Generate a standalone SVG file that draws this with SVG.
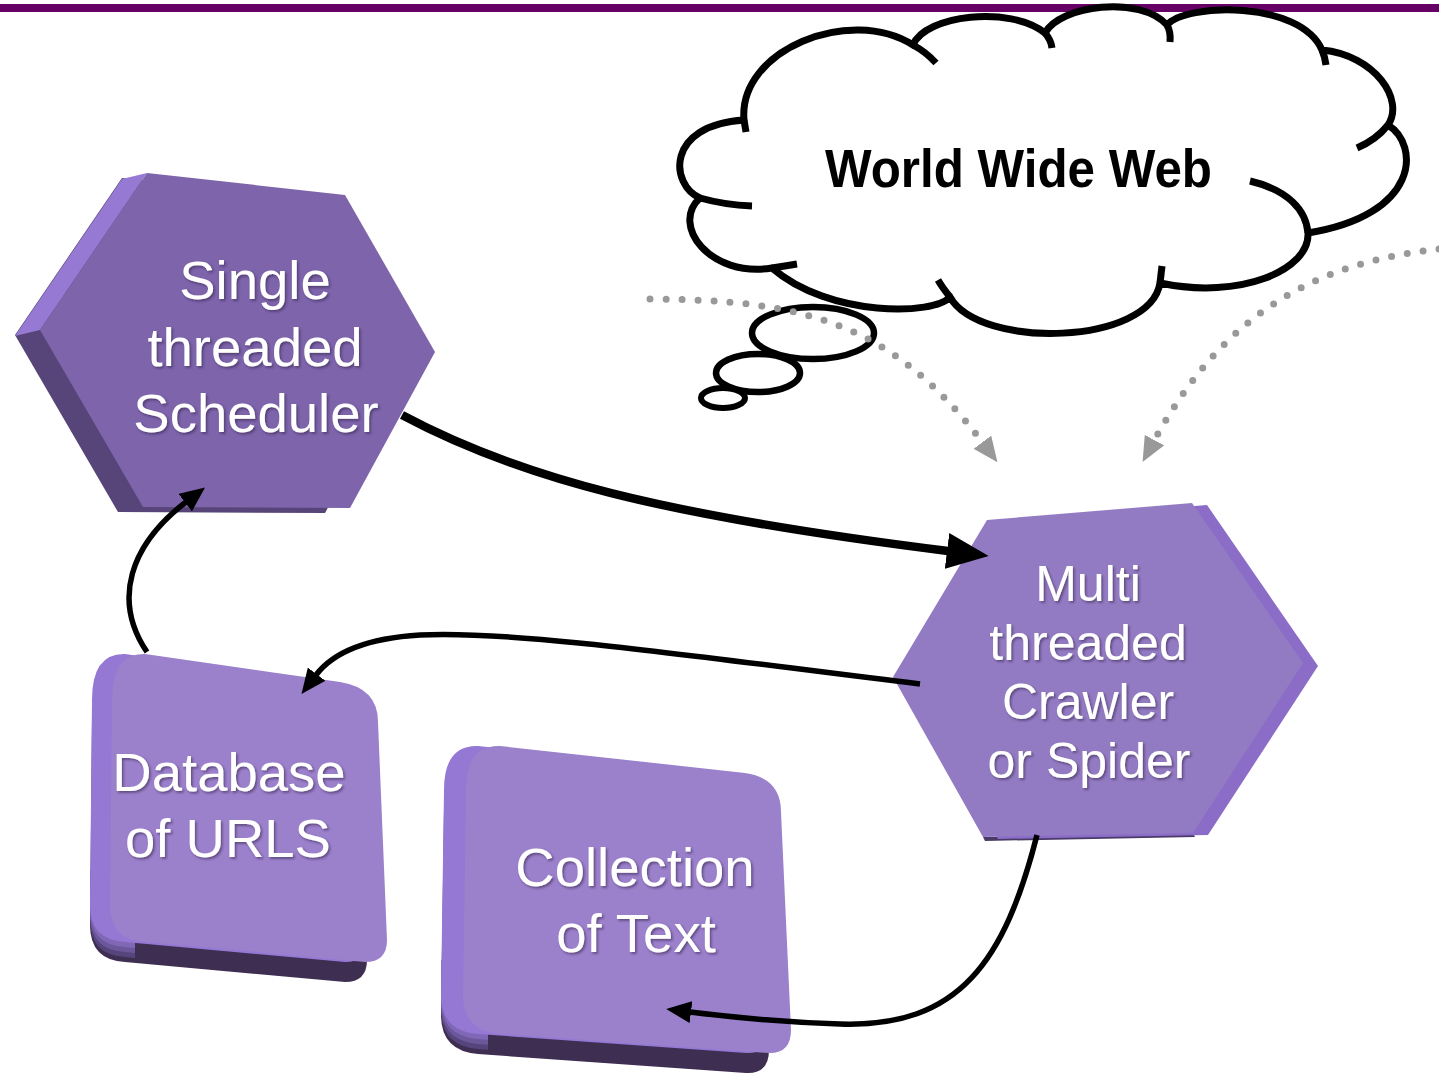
<svg xmlns="http://www.w3.org/2000/svg" width="1439" height="1077" viewBox="0 0 1439 1077">
  <defs>
    <style>
      .lbl { font-family: "Liberation Sans", Arial, sans-serif; fill: #ffffff; text-anchor: middle; }
      .ink { fill: none; stroke: #000000; stroke-width: 7; }
      .link { fill: none; stroke: #000000; stroke-width: 5.5; }
      .dots { fill: none; stroke: #999999; stroke-width: 7; stroke-linecap: round; stroke-dasharray: 0 16; }
    </style>
    <filter id="txtShadow" x="-10%" y="-20%" width="130%" height="150%">
      <feDropShadow dx="1.6" dy="1.8" stdDeviation="1" flood-color="#2e2244" flood-opacity="0.55"/>
    </filter>
    <marker id="headBig" markerUnits="userSpaceOnUse" viewBox="0 0 42 36" markerWidth="42" markerHeight="36" refX="1" refY="18" orient="auto">
      <path d="M0,0 L42,18 L0,36 Z" fill="#000000"/>
    </marker>
    <marker id="head" markerUnits="userSpaceOnUse" viewBox="0 0 25 22" markerWidth="25" markerHeight="22" refX="1" refY="11" orient="auto">
      <path d="M0,0 L25,11 L0,22 Z" fill="#000000"/>
    </marker>
    <marker id="headGrey" markerUnits="userSpaceOnUse" viewBox="0 0 25 22" markerWidth="25" markerHeight="22" refX="1" refY="11" orient="auto">
      <path d="M0,0 L25,11 L0,22 Z" fill="#999999"/>
    </marker>
    <!-- top faces of the two rounded blocks -->
    <path id="dbShape" d="M145,654 L340,682 Q378,688 378,722 L387,940 Q387,962 365,962 L145,942 Q110,940 110,905 L112,700 Q112,653 145,654 Z"/>
    <path id="ctShape" d="M500,746 L745,773 Q781,778 781,812 L791,1030 Q791,1054 768,1053 L500,1034 Q463,1031 463,995 L466,790 Q466,745 500,746 Z"/>
    <clipPath id="dbCorner"><polygon points="60,870 135,870 135,960 60,990"/></clipPath>
    <clipPath id="ctCorner"><polygon points="410,960 488,960 488,1050 410,1080"/></clipPath>
  </defs>

  <!-- header rule -->
  <rect x="0" y="4" width="1439" height="8" fill="#660066"/>

  <!-- cloud: World Wide Web -->
  <g id="node-web">
    <path d="M744,120 C738,50 850,5 913,45 C925,15 1010,5 1045,33 C1060,5 1140,-5 1167,25 C1185,3 1300,0 1322,50 C1375,55 1405,100 1388,125 C1420,145 1420,215 1308,233 C1310,270 1240,300 1160,283 C1150,345 980,350 950,297 C935,315 830,318 772,268 C710,278 670,225 700,198 C670,185 665,125 744,120 Z" fill="#ffffff" stroke="#000000" stroke-width="7" stroke-linejoin="round"/>
    <path class="ink" d="M744,120 L746,132"/>
    <path class="ink" d="M913,45 Q926,52 936,63"/>
    <path class="ink" d="M1045,33 Q1051,40 1052,48"/>
    <path class="ink" d="M1167,25 Q1171,32 1170,42"/>
    <path class="ink" d="M1322,50 Q1325,57 1326,65"/>
    <path class="ink" d="M1388,125 Q1376,140 1357,148"/>
    <path class="ink" d="M1308,233 C1306,210 1288,190 1250,181"/>
    <path class="ink" d="M1160,283 L1162,266"/>
    <path class="ink" d="M950,297 Q942,287 938,280"/>
    <path class="ink" d="M772,268 Q785,266 797,264"/>
    <path class="ink" d="M700,198 Q725,205 752,206"/>
    <!-- thought-bubble trail -->
    <ellipse cx="813" cy="333" rx="61" ry="26" fill="#ffffff" stroke="#000000" stroke-width="6.5"/>
    <ellipse cx="758" cy="373" rx="42" ry="19" fill="#ffffff" stroke="#000000" stroke-width="6.5"/>
    <ellipse cx="723" cy="398" rx="22" ry="10" fill="#ffffff" stroke="#000000" stroke-width="6"/>
    <text x="825" y="187" font-family="'Liberation Sans', Arial, sans-serif" font-weight="bold" font-size="53" textLength="387" lengthAdjust="spacingAndGlyphs" fill="#000000">World Wide Web</text>
  </g>

  <!-- hexagon: scheduler -->
  <g id="node-scheduler">
    <polygon points="122,178 320,200 410,357 325,513 118,512 15,335" fill="#574579"/>
    <polygon points="147,173 122,179 15,336 40,330" fill="#9579D3"/>
    <polygon points="147,173 345,195 435,352 350,508 143,507 40,330" fill="#7D64AB"/>
    <g class="lbl" font-size="54.5" filter="url(#txtShadow)">
      <text x="255" y="299">Single</text>
      <text x="255" y="366">threaded</text>
      <text x="256" y="432">Scheduler</text>
    </g>
  </g>

  <!-- hexagon: crawler -->
  <g id="node-crawler">
    <polygon points="983,837 1193,833 1195,837 985,841" fill="#4A3A68"/>
    <polygon points="1002,522 1207,505 1318,666 1208,835 998,839 908,679" fill="#8B6DC8"/>
    <polygon points="987,520 1192,503 1303,663 1193,833 983,837 893,677" fill="#937BC3"/>
    <g class="lbl" font-size="50" filter="url(#txtShadow)">
      <text x="1088" y="601">Multi</text>
      <text x="1088" y="660">threaded</text>
      <text x="1088" y="719">Crawler</text>
      <text x="1089" y="778">or Spider</text>
    </g>
  </g>

  <!-- rounded block: URL database -->
  <g id="node-database">
    <use href="#dbShape" transform="translate(-20,20)" fill="#3E2E52"/>
    <g clip-path="url(#dbCorner)">
      <use href="#dbShape" transform="translate(-20,15)" fill="#56457C"/>
      <use href="#dbShape" transform="translate(-20,10)" fill="#6B579A"/>
      <use href="#dbShape" transform="translate(-20,5)" fill="#8068B6"/>
    </g>
    <use href="#dbShape" transform="translate(-20,0)" fill="#9478D4"/>
    <use href="#dbShape" fill="#9B80CB"/>
    <g class="lbl" font-size="54.5" filter="url(#txtShadow)">
      <text x="229" y="791">Database</text>
      <text x="228" y="857">of URLS</text>
    </g>
  </g>

  <!-- rounded block: text collection -->
  <g id="node-collection">
    <use href="#ctShape" transform="translate(-22,20)" fill="#3E2E52"/>
    <g clip-path="url(#ctCorner)">
      <use href="#ctShape" transform="translate(-22,15)" fill="#56457C"/>
      <use href="#ctShape" transform="translate(-22,10)" fill="#6B579A"/>
      <use href="#ctShape" transform="translate(-22,5)" fill="#8068B6"/>
    </g>
    <use href="#ctShape" transform="translate(-22,0)" fill="#9478D4"/>
    <use href="#ctShape" fill="#9B80CB"/>
    <g class="lbl" font-size="54.5" filter="url(#txtShadow)">
      <text x="635" y="886">Collection</text>
      <text x="636" y="952">of Text</text>
    </g>
  </g>

  <!-- connectors -->
  <g id="connectors">
    <path d="M402,415 C520,478 660,515 948,551" fill="none" stroke="#000000" stroke-width="8.5" marker-end="url(#headBig)"/>
    <path class="link" d="M147,652 C112,600 130,545 186,502" marker-end="url(#head)"/>
    <path class="link" d="M920,684 C720,660 520,630 420,635 C370,638 335,650 316,675" marker-end="url(#head)"/>
    <path class="link" d="M1037,835 C1005,960 960,1028 840,1024 C780,1022 730,1017 690,1012" marker-end="url(#head)"/>
    <path class="dots" d="M650,299 C800,300 890,320 983,443" marker-end="url(#headGrey)"/>
    <path class="dots" d="M1439,249 C1320,262 1225,310 1154,441" marker-end="url(#headGrey)"/>
  </g>
</svg>
